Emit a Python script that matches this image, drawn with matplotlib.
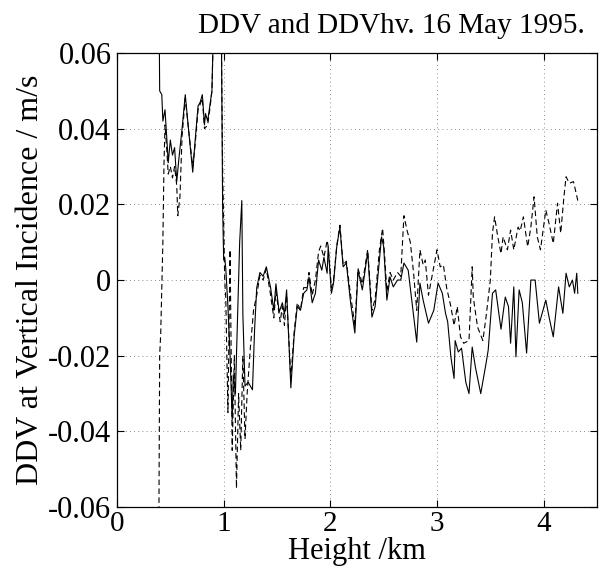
import matplotlib
matplotlib.use("Agg")
import matplotlib.pyplot as plt

# DDV (solid)
height_ddv = [0.39, 0.40, 0.42, 0.43, 0.45, 0.47, 0.48, 0.50, 0.52, 0.54, 0.56, 0.58, 0.61, 0.64,
              0.67, 0.71, 0.73, 0.76, 0.78, 0.80, 0.82, 0.83, 0.85, 0.87, 0.89, 0.90, 0.92, 0.97,
              0.98, 0.99, 1.00, 1.01, 1.02, 1.04, 1.06, 1.08, 1.09, 1.11, 1.13, 1.15, 1.17, 1.18,
              1.20, 1.23, 1.27, 1.29, 1.31, 1.34, 1.37, 1.40, 1.44, 1.47, 1.49, 1.52, 1.55, 1.57,
              1.59, 1.63, 1.66, 1.69, 1.72, 1.75, 1.78, 1.80, 1.83, 1.86, 1.89, 1.92, 1.94, 1.97,
              1.98, 2.01, 2.03, 2.06, 2.09, 2.12, 2.15, 2.19, 2.23, 2.26, 2.30, 2.35, 2.39, 2.42,
              2.48, 2.50, 2.53, 2.56, 2.59, 2.63, 2.66, 2.69, 2.73, 2.77, 2.81, 2.84, 2.87, 2.92,
              2.97, 3.01, 3.05, 3.08, 3.10, 3.13, 3.16, 3.17, 3.20, 3.23, 3.27, 3.30, 3.33, 3.36,
              3.41, 3.46, 3.48, 3.52, 3.55, 3.60, 3.64, 3.67, 3.69, 3.72, 3.74, 3.77, 3.80, 3.84,
              3.88, 3.92, 3.96, 4.02, 4.05, 4.09, 4.14, 4.18, 4.21, 4.24, 4.27, 4.29, 4.31, 4.32]
ddv = [0.09, 0.050, 0.049, 0.042, 0.045, 0.036, 0.031, 0.037, 0.033, 0.035, 0.026, 0.032, 0.040, 0.049,
       0.040, 0.0285, 0.036, 0.046, 0.047, 0.049, 0.041, 0.044, 0.042, 0.046, 0.050, 0.062, 0.09, 0.09,
       0.06, 0.02, 0.0053, 0.006, 0.003, -0.007, -0.020, -0.037, -0.025, -0.030, -0.010, 0.010, 0.021, -0.009,
       -0.028, -0.027, -0.029, -0.013, -0.002, 0.002, 0.001, 0.0035, -0.002, -0.008, -0.001, -0.0085, -0.006, -0.009,
       -0.0026, -0.0285, -0.015, -0.007, -0.008, -0.0035, -0.0026, 0.0008, -0.006, -0.0035, 0.0053, 0.0026, 0.006, 0.0018,
       0.0088, -0.0035, -0.0008, 0.0088, 0.014, 0.0035, 0.0045, -0.006, -0.014, 0.0026, -0.0026, 0.0074, -0.0098, -0.007,
       0.0114, 0.0088, -0.0053, 0.0008, -0.0018, 0.0, 0.0, 0.0045, 0.0026, -0.007, -0.0164, -0.0008, -0.0053, -0.0114,
       -0.008, -0.0008, -0.0035, -0.0088, -0.011, -0.0203, -0.026, -0.016, -0.019, -0.018, -0.027, -0.030, -0.0177, -0.023,
       -0.030, -0.022, -0.0185, -0.0035, -0.0026, -0.013, -0.0045, -0.007, -0.0167, -0.0018, -0.0203, -0.0026, -0.006, -0.0193,
       0.0, 0.0, -0.0114, -0.0053, -0.0097, -0.015, -0.0018, -0.0088, 0.0018, -0.0018, 0.0, -0.0035, 0.0018, -0.0035]

# DDVhv (dashed)
height_hv = [0.39, 0.40, 0.41, 0.43, 0.44, 0.45, 0.47, 0.48, 0.50, 0.52, 0.54, 0.56, 0.57, 0.59,
             0.61, 0.64, 0.67, 0.71, 0.73, 0.76, 0.80, 0.82, 0.85, 0.87, 0.89, 0.90, 0.92, 0.97,
             0.99, 1.01, 1.02, 1.04, 1.06, 1.08, 1.10, 1.12, 1.14, 1.16, 1.18, 1.20, 1.22, 1.25,
             1.28, 1.31, 1.34, 1.37, 1.40, 1.44, 1.47, 1.49, 1.53, 1.55, 1.57, 1.59, 1.63, 1.66,
             1.69, 1.72, 1.75, 1.78, 1.80, 1.83, 1.86, 1.89, 1.91, 1.94, 1.97, 1.98, 2.01, 2.03,
             2.06, 2.09, 2.12, 2.15, 2.19, 2.23, 2.26, 2.30, 2.35, 2.39, 2.42, 2.46, 2.49, 2.51,
             2.53, 2.56, 2.59, 2.63, 2.66, 2.69, 2.72, 2.75, 2.78, 2.81, 2.84, 2.87, 2.89, 2.92,
             2.96, 3.00, 3.03, 3.06, 3.09, 3.13, 3.16, 3.19, 3.22, 3.25, 3.30, 3.33, 3.34, 3.38,
             3.43, 3.46, 3.50, 3.52, 3.54, 3.57, 3.60, 3.62, 3.66, 3.69, 3.72, 3.76, 3.78, 3.81,
             3.85, 3.88, 3.91, 3.94, 3.97, 4.02, 4.05, 4.09, 4.13, 4.16, 4.19, 4.21, 4.24, 4.28, 4.32]
ddvhv = [-0.08, -0.020, -0.014, 0.010, 0.030, 0.041, 0.033, 0.028, 0.030, 0.027, 0.030, 0.025, 0.017, 0.022,
         0.038, 0.048, 0.040, 0.030, 0.035, 0.045, 0.048, 0.040, 0.041, 0.045, 0.050, 0.062, 0.09, 0.09,
         0.03, 0.0, -0.005, -0.035, 0.008, -0.045, -0.020, -0.055, -0.030, -0.045, -0.020, -0.042, -0.030, -0.018,
         -0.008, -0.004, 0.0013, 0.0, 0.003, -0.004, -0.010, -0.003, -0.011, -0.007, -0.012, -0.004, -0.026, -0.014,
         -0.006, -0.008, -0.002, -0.002, 0.002, -0.004, 0.0, 0.0075, 0.009, 0.006, 0.0105, 0.0088, -0.002, 0.0,
         0.009, 0.0145, 0.004, 0.005, -0.004, -0.012, 0.003, -0.001, 0.008, -0.008, -0.005, 0.008, 0.0137, 0.006,
         -0.003, 0.002, 0.0, 0.002, 0.001, 0.017, 0.013, 0.010, 0.002, -0.008, 0.008, 0.004, 0.0053, -0.004,
         0.002, 0.008, 0.0035, 0.004, -0.002, -0.007, -0.012, -0.007, -0.015, -0.0167, -0.016, 0.0035, -0.0045, -0.0124,
         -0.016, -0.0097, 0.0, 0.0124, 0.0167, 0.0114, 0.007, 0.0114, 0.008, 0.0132, 0.008, 0.014, 0.013, 0.0167,
         0.0088, 0.014, 0.022, 0.0114, 0.008, 0.0185, 0.015, 0.0097, 0.0203, 0.0124, 0.022, 0.0273, 0.0256, 0.026, 0.021]

xticks = [0, 1, 2, 3, 4]
yticks = [-0.06, -0.04, -0.02, 0, 0.02, 0.04, 0.06]
ytick_labels = ["-0.06", "-0.04", "-0.02", "0", "0.02", "0.04", "0.06"]

plt.rcParams["font.family"] = ["Liberation Serif", "DejaVu Serif"]

fig = plt.figure(figsize=(6, 5.73), dpi=100)
ax = fig.add_axes([0.195, 0.115, 0.80, 0.7925])

ax.plot(height_ddv, ddv, color="black", linewidth=0.8, linestyle="-")
ax.plot(height_hv, ddvhv, color="black", linewidth=0.8, linestyle=(0, (5, 3)))

ax.set_xlim(0, 4.5)
ax.set_ylim(-0.06, 0.06)
ax.set_xticks(xticks)
ax.set_yticks(yticks)
ax.set_yticklabels(ytick_labels)
ax.tick_params(direction="in", top=True, right=True, labelsize=22, length=5, width=0.8, pad=4)
ax.tick_params(axis="x", labelsize=21, pad=3)
ax.grid(True, linestyle=(0, (1, 4)), color="black", linewidth=0.6, alpha=0.6)
for s in ax.spines.values():
    s.set_linewidth(0.9)

fig.text(0.653, 0.955, "DDV and DDVhv. 16 May 1995.", fontsize=21, ha="center", va="center")
ax.set_xlabel("Height /km", fontsize=22, labelpad=0)
ax.set_ylabel("DDV at Vertical Incidence / m/s", fontsize=23, labelpad=2)

fig.savefig("out.png", dpi=100)
